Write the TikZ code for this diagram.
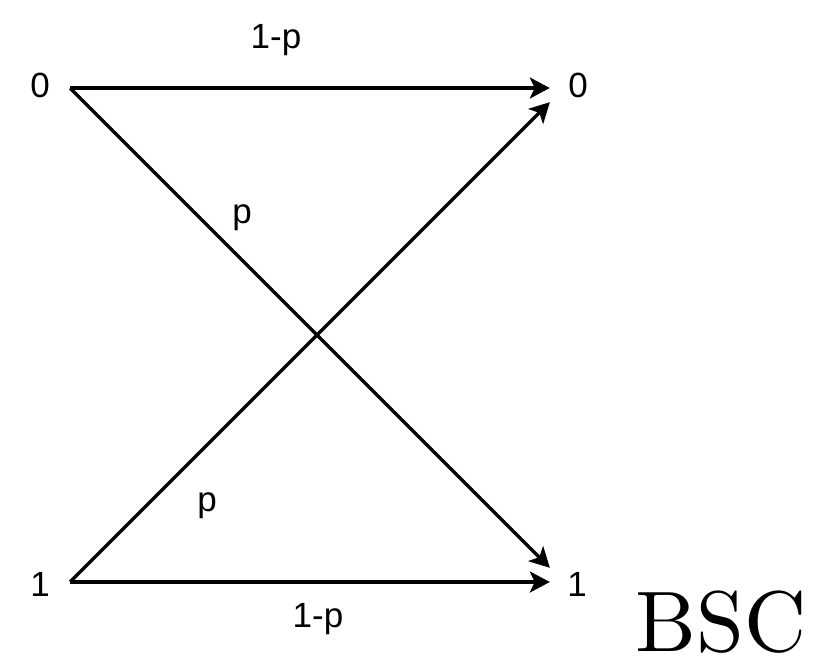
\documentclass[tikz,border=0pt]{standalone}
\usepackage{fontspec}
\newfontfamily\lblfont{Liberation Sans}
\newfontfamily\bscfont{lmroman10-regular.otf}
\usetikzlibrary{arrows.meta,positioning}

\begin{document}
\begin{tikzpicture}[x=1pt, y=-1pt,
    every node/.style={font=\lblfont\fontsize{35}{35}\selectfont, inner sep=0pt},
    port/.style={inner sep=0pt, minimum size=0pt},
    outport/.style={inner sep=0pt, minimum width=28pt, minimum height=28pt},
    channel/.style={line width=3.3pt, -{Stealth[length=20pt,width=21pt,inset=5pt]}}]
  \useasboundingbox (0,0) rectangle (815,667);
  % inputs and outputs
  \node[port]    (x0) at (70,88)  {};
  \node[port]    (x1) at (70,582) {};
  \node[outport] (y0) at (564,88)  {};
  \node[outport] (y1) at (564,582) {};
  \node[anchor=base] (x0t) at (40,97)  {0};
  \node[anchor=base] (x1t) at (40,596) {1};
  \node[anchor=base] (y0t) at (578,97)  {0};
  \node[anchor=base] (y1t) at (577,596) {1};
  % transitions
  \draw[channel] (x0) -- (y0);
  \draw[channel] (x0) -- (y1);
  \draw[channel] (x1) -- (y0);
  \draw[channel] (x1) -- (y1);
  \node[anchor=base] (q00) at (276,48)  {1-p};
  \node[anchor=base] (q01) at (242,223) {p};
  \node[anchor=base] (q10) at (207,511) {p};
  \node[anchor=base] (q11) at (318,627) {1-p};
  \node[anchor=base, font=\bscfont\fontsize{86}{86}\selectfont] (name) at (721,651) {BSC};
\end{tikzpicture}
\end{document}
